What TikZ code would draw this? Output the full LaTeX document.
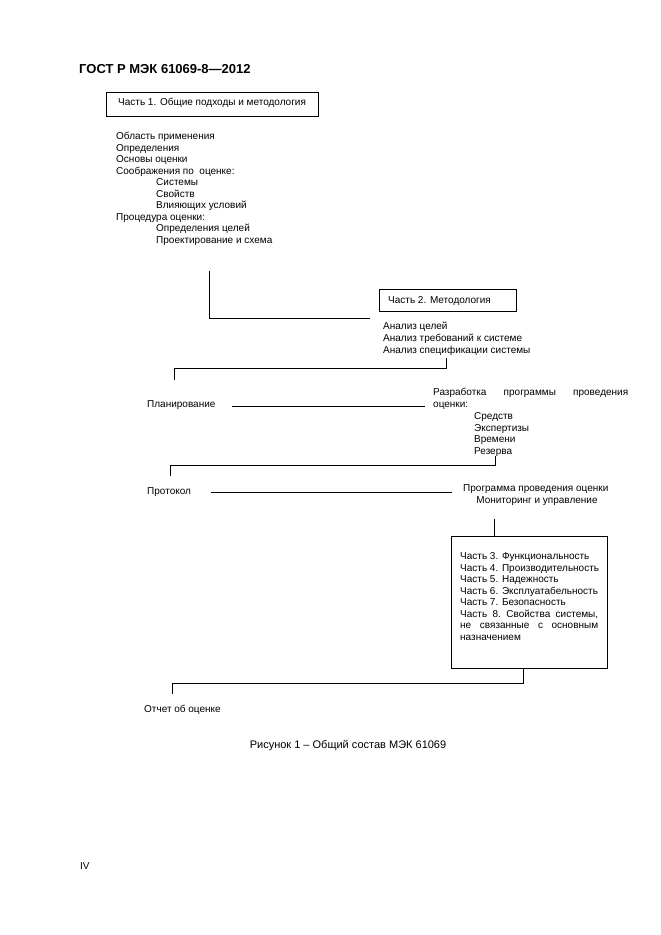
\documentclass[tikz,border=0pt]{standalone}
\usepackage{fontspec}
\setmainfont{Liberation Sans}
\begin{document}
\begin{tikzpicture}[x=1pt,y=-1pt,
  txt/.style={anchor=base west,inner sep=0pt,font=\fontsize{10}{11.5}\selectfont},
  boxed/.style={draw,line width=0.9pt,inner sep=0pt},
  conn/.style={line width=1pt}]
\useasboundingbox[fill=white] (0,0) rectangle (661,935);
% header
\node[txt,font=\fontsize{13}{15}\selectfont\bfseries] (hdr) at (79,73.5) {ГОСТ Р МЭК 61069-8—2012};
% part 1
\node[boxed,minimum width=212pt,minimum height=24pt,anchor=north west] (p1) at (106,92) {};
\node[txt] (p1t) at (118,105.5) {Часть 1. Общие подходы и методология};
\node[txt] (l1) at (116,139.5) {Область применения};
\node[txt] (l2) at (116,151.1) {Определения};
\node[txt] (l3) at (116,162.6) {Основы оценки};
\node[txt] (l4) at (116,174.2) {Соображения по\ \ оценке:};
\node[txt] (l5) at (156,185.7) {Системы};
\node[txt] (l6) at (156,197.3) {Свойств};
\node[txt] (l7) at (156,208.8) {Влияющих условий};
\node[txt] (l8) at (116,220.4) {Процедура оценки:};
\node[txt] (l9) at (156,231.9) {Определения целей};
\node[txt] (l10) at (156,243.5) {Проектирование и схема};
% connector 1
\coordinate (c1a) at (209,271);
\coordinate (c1b) at (209,318);
\coordinate (c1c) at (370,318);
\draw[conn] (c1a) -- (c1b) -- (c1c);
% part 2
\node[boxed,minimum width=137pt,minimum height=22pt,anchor=north west] (p2) at (379,289) {};
\node[txt] (p2t) at (388,303.5) {Часть 2. Методология};
\node[txt] (m1) at (383,329.5) {Анализ целей};
\node[txt] (m2) at (383,341.5) {Анализ требований к системе};
\node[txt] (m3) at (383,353.5) {Анализ спецификации системы};
% connector 2
\coordinate (c2a) at (446,358);
\coordinate (c2b) at (446,368);
\coordinate (c2c) at (174,368);
\coordinate (c2d) at (174,380);
\draw[conn] (c2a) -- (c2b) -- (c2c) -- (c2d);
% planning
\node[txt] (plan) at (147,407.5) {Планирование};
\node[txt] (dev1) at (433,395.5) {\makebox[195pt][s]{Разработка\hfill программы\hfill проведения}};
\node[txt] (dev2) at (433,407.5) {оценки:};
\node[txt] (d1) at (474,419.5) {Средств};
\node[txt] (d2) at (474,431) {Экспертизы};
\node[txt] (d3) at (474,442.5) {Времени};
\node[txt] (d4) at (474,454) {Резерва};
\coordinate (pl1) at (232,406);
\coordinate (pl2) at (425,406);
\draw[conn] (pl1) -- (pl2);
% connector 3
\coordinate (c3a) at (495,456);
\coordinate (c3b) at (495,465);
\coordinate (c3c) at (170,465);
\coordinate (c3d) at (170,476);
\draw[conn] (c3a) -- (c3b) -- (c3c) -- (c3d);
% protocol
\node[txt] (prot) at (147,494.5) {Протокол};
\node[txt] (prg1) at (463,491.5) {Программа проведения оценки};
\node[anchor=base,inner sep=0pt,font=\fontsize{10}{11.5}\selectfont] (prg2) at (537,503.5) {Мониторинг и управление};
\coordinate (pr1) at (211,492);
\coordinate (pr2) at (452,492);
\draw[conn] (pr1) -- (pr2);
% box 3-8
\node[boxed,minimum width=156pt,minimum height=132pt,anchor=north west] (p3) at (451,536) {};
\coordinate (c4a) at (494,519);
\draw[conn] (c4a) -- (c4a |- p3.north);
\node[txt] (q1) at (460,559.5) {Часть 3. Функциональность};
\node[txt] (q2) at (460,571) {Часть 4. Производительность};
\node[txt] (q3) at (460,582.5) {Часть 5. Надежность};
\node[txt] (q4) at (460,594) {Часть 6. Эксплуатабельность};
\node[txt] (q5) at (460,605.5) {Часть 7. Безопасность};
\node[txt] (q6) at (460,617) {\makebox[138pt][s]{Часть\hfill 8.\hfill Свойства\hfill системы,}};
\node[txt] (q7) at (460,628.5) {\makebox[138pt][s]{не\hfill связанные\hfill с\hfill основным}};
\node[txt] (q8) at (460,640) {назначением};
% connector 5
\coordinate (c5a) at (523,668);
\coordinate (c5b) at (523,683);
\coordinate (c5c) at (172,683);
\coordinate (c5d) at (172,694);
\draw[conn] (c5a) -- (c5b) -- (c5c) -- (c5d);
\node[txt] (rep) at (144,712.5) {Отчет об оценке};
\node[anchor=base,inner sep=0pt,font=\fontsize{11}{12.5}\selectfont] (cap) at (348,748.5) {Рисунок 1 – Общий состав МЭК 61069};
\node[txt] (pg) at (80,869.5) {IV};
\end{tikzpicture}
\end{document}
